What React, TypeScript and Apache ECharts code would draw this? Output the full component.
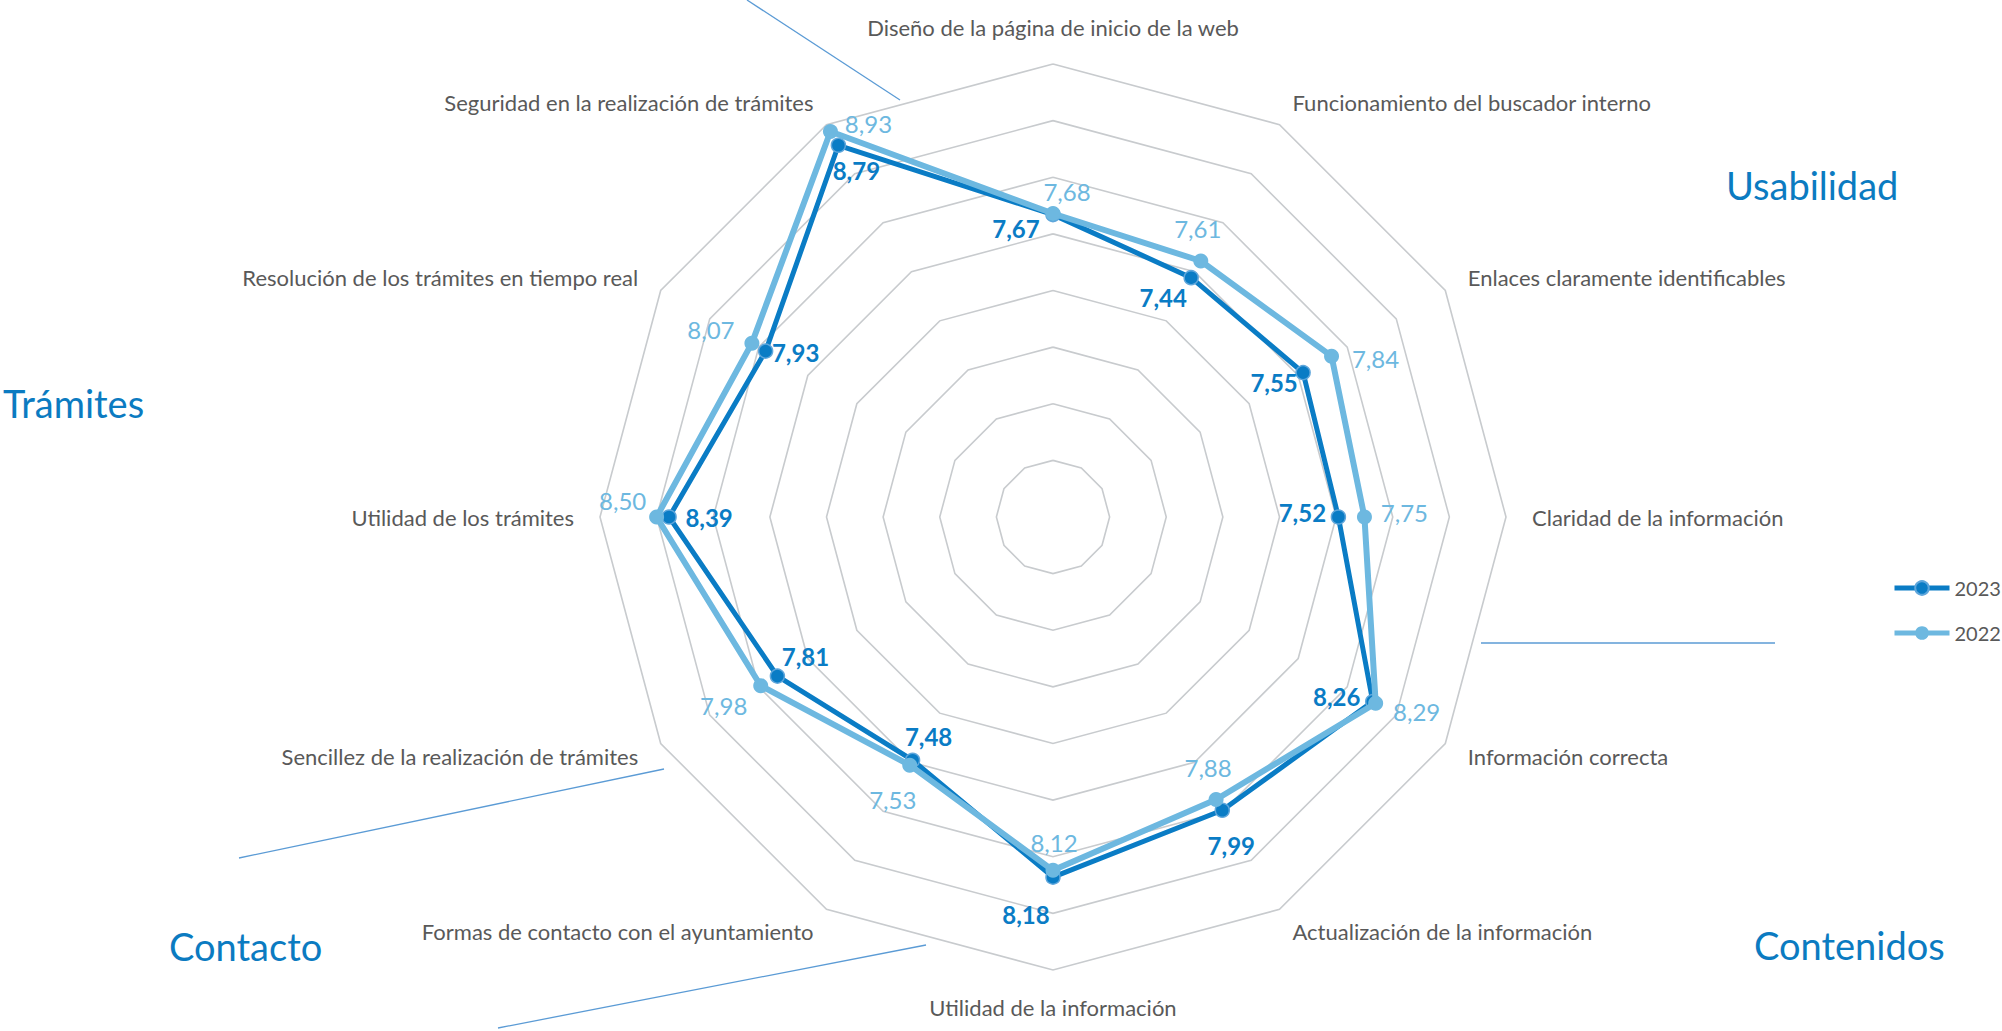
import React, { useEffect, useRef } from 'react';
import * as echarts from 'echarts';

// ---------- data ----------
const categories = [
  'Diseño de la página de inicio de la web',
  'Funcionamiento del buscador interno',
  'Enlaces claramente identificables',
  'Claridad de la información',
  'Información correcta',
  'Actualización de la información',
  'Utilidad de la información',
  'Formas de contacto con el ayuntamiento',
  'Sencillez de la realización de trámites',
  'Utilidad de los trámites',
  'Resolución de los trámites en tiempo real',
  'Seguridad en la realización de trámites',
];
const values2023 = [7.67, 7.44, 7.55, 7.52, 8.26, 7.99, 8.18, 7.48, 7.81, 8.39, 7.93, 8.79];
const values2022 = [7.68, 7.61, 7.84, 7.75, 8.29, 7.88, 8.12, 7.53, 7.98, 8.5, 8.07, 8.93];
const seriesNames = ['2023', '2022'];
const scaleMin = 5;
const scaleMax = 9;
const scaleSplits = 8;
const groupNames = ['Usabilidad', 'Trámites', 'Contacto', 'Contenidos'];

// ---------- layout ----------
const CX = 1053;
const CY = 517;
const R = 453;
const labelOffsets2023 = [
  [-37, 14], [-28, 20], [-29, 10], [-36, -5], [-36, -5], [9, 35],
  [-27, 37], [16, -24], [28, -20], [40, 0], [30, 1], [18, 25],
];
const labelOffsets2022 = [
  [14, -22], [-3, -33], [44, 2], [40, -5], [41, 8], [-8, -32],
  [1, -28], [-17, 34], [-37, 20], [-34, -17], [-41, -14], [38, -8],
];
const groupPos = [
  [1726, 185],
  [3, 403],
  [169, 946],
  [1754, 945],
];
const decoLines = [
  [747, 0, 900, 100],
  [1481, 643, 1775, 643],
  [239, 858, 664, 769],
  [498, 1028, 926, 945],
];

const C2023 = '#0A7CC5';
const C2022 = '#6DB8E0';
const FONT = 'Lato, "Noto Sans", sans-serif';

function buildSeriesData(values: number[], offsets: number[][]) {
  const n = values.length;
  const step = 360 / n;
  const items: any[] = values.map((v, i) => ({
    value: [v, i * step],
    label: { offset: offsets[i] },
  }));
  items.push({ value: [values[0], 360], symbol: 'none', label: { show: false } });
  return items;
}

export default function App() {
  const ref = useRef<HTMLDivElement>(null);
  useEffect(() => {
    if (!ref.current) return;
    const chart = echarts.init(ref.current, undefined, { renderer: 'svg' });
    const n = categories.length;
    // ECharts radar runs counter-clockwise; reorder so it reads clockwise
    const order = [0, ...Array.from({ length: n - 1 }, (_, k) => n - 1 - k)];
    const indicator = order.map((i) => ({ name: categories[i], min: scaleMin, max: scaleMax }));

    const fmt = (p: any) => Number(p.value[0]).toFixed(2).replace('.', ',');

    const option: any = {
      animation: false,
      backgroundColor: '#ffffff',
      textStyle: { fontFamily: FONT },
      legend: {
        orient: 'vertical',
        left: 1887,
        top: 573,
        itemWidth: 55,
        itemHeight: 17,
        itemGap: 25,
        data: seriesNames,
        lineStyle: { width: 5 },
        textStyle: { color: '#595959', fontSize: 20, fontFamily: FONT },
      },
      radar: {
        center: [CX, CY],
        radius: R,
        startAngle: 90,
        splitNumber: scaleSplits,
        shape: 'polygon',
        indicator,
        nameGap: 26,
        axisName: { color: '#595959', fontSize: 22, fontFamily: FONT },
        axisLine: { show: false },
        axisTick: { show: false },
        axisLabel: { show: false },
        splitArea: { show: false },
        splitLine: { lineStyle: { color: '#C8CBCE', width: 1.6 } },
      },
      polar: { center: [CX, CY], radius: R },
      angleAxis: {
        type: 'value', min: 0, max: 360, startAngle: 90, clockwise: true,
        show: false, axisLine: { show: false }, splitLine: { show: false },
        axisLabel: { show: false }, axisTick: { show: false },
      },
      radiusAxis: {
        type: 'value', min: scaleMin, max: scaleMax,
        show: false, axisLine: { show: false }, splitLine: { show: false },
        axisLabel: { show: false }, axisTick: { show: false },
      },
      series: [
        {
          name: seriesNames[0],
          type: 'line',
          coordinateSystem: 'polar',
          data: buildSeriesData(values2023, labelOffsets2023),
          symbol: 'circle',
          symbolSize: 14,
          lineStyle: { color: C2023, width: 5 },
          itemStyle: { color: C2023, borderColor: '#5FA6DB', borderWidth: 1.5 },
          label: {
            show: true, position: 'inside', formatter: fmt,
            color: C2023, fontSize: 24, fontWeight: 'bold', fontFamily: FONT,
          },
          z: 3,
        },
        {
          name: seriesNames[1],
          type: 'line',
          coordinateSystem: 'polar',
          data: buildSeriesData(values2022, labelOffsets2022),
          symbol: 'circle',
          symbolSize: 15,
          lineStyle: { color: C2022, width: 6 },
          itemStyle: { color: C2022 },
          label: {
            show: true, position: 'inside', formatter: fmt,
            color: C2022, fontSize: 24, fontWeight: 'normal', fontFamily: FONT,
          },
          z: 4,
        },
      ],
      graphic: [
        ...decoLines.map((l) => ({
          type: 'line',
          silent: true,
          shape: { x1: l[0], y1: l[1], x2: l[2], y2: l[3] },
          style: { stroke: '#5B9BD5', lineWidth: 1.3 },
        })),
        ...groupNames.map((g, i) => ({
          type: 'text',
          silent: true,
          x: groupPos[i][0],
          y: groupPos[i][1],
          style: {
            text: g,
            fill: '#0B7BC1',
            fontSize: 38,
            fontFamily: FONT,
            verticalAlign: 'middle',
            align: 'left',
          },
        })),
      ],
    };
    chart.setOption(option);
    return () => chart.dispose();
  }, []);
  return (
    <div
      ref={ref}
      style={{ position: 'fixed', left: 0, top: 0, width: 2002, height: 1031, background: '#fff' }}
    />
  );
}
